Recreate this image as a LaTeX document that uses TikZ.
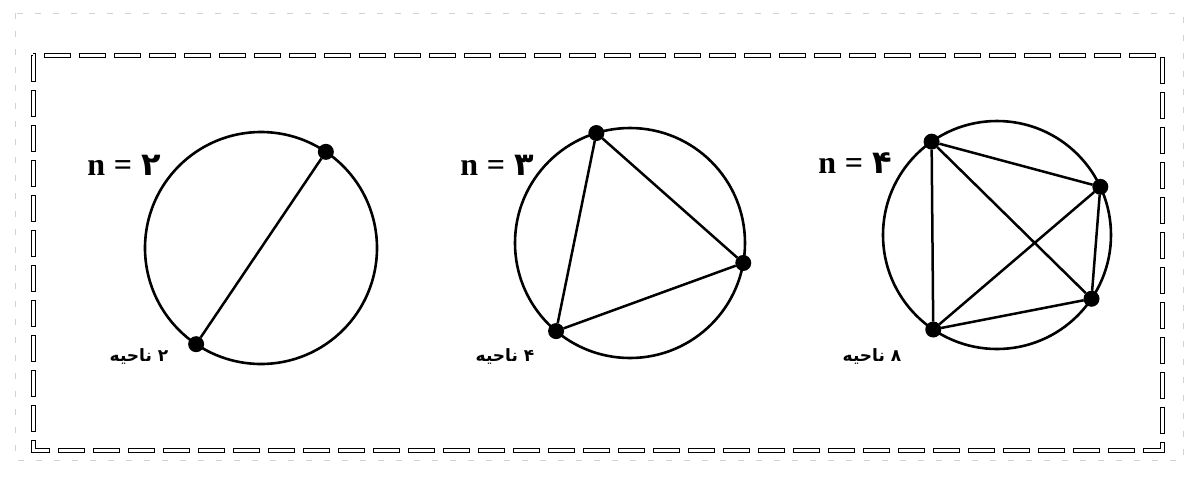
\documentclass[tikz,border=0pt]{standalone}
\usepackage{fontspec}
\setmainfont{Liberation Serif}
\newfontfamily\arabicfont[Script=Arabic]{DejaVu Sans}
\TeXXeTstate=1
\begin{document}
\begin{tikzpicture}[x=0.5pt,y=-0.5pt,
  ring/.style={circle,draw,line width=1.3pt,inner sep=0pt,outer sep=0pt},
  dot/.style={circle,fill,inner sep=0pt,outer sep=0pt,minimum size=8pt},
  chord/.style={line width=1.25pt},
  nlabel/.style={font=\fontsize{16}{17}\selectfont\bfseries},
  rlabel/.style={font=\arabicfont\fontsize{8.5}{10}\selectfont\bfseries},
  frameouter/.style={line width=2.5pt, dash pattern=on 13.5pt off 4pt},
  frameinner/.style={white, line width=1.5pt, dash pattern=on 12.5pt off 5pt, dash phase=17pt}]
\useasboundingbox (0,0) rectangle (1191,484);
% faint outer frame
\draw[gray!35, line width=0.3pt, dash pattern=on 3pt off 6pt] (15,13) rectangle (1183,460);
% main hollow dashed frame
\draw[frameouter] (33,55) rectangle (1162,450);
\draw[frameinner] (33,55) rectangle (1162,450);

% n = 2
\node[ring, minimum size=116pt] (c1) at (261,248) {};
\node[dot] (a1) at (c1.56) {};
\node[dot] (a2) at (c1.236) {};
\draw[chord] (a1) -- (a2);
\node[nlabel] (n1) at (124,165) {n\;=\;{\arabicfont ۲}};
\node[rlabel] (r1) at (139,356) {\beginR ۲ ناحیه\endR};

% n = 3
\node[ring, minimum size=115pt] (c2) at (630,243) {};
\node[dot] (b1) at (c2.107) {};
\node[dot] (b2) at (c2.-10) {};
\node[dot] (b3) at (c2.230) {};
\draw[chord] (b1) -- (b2) -- (b3) -- (b1);
\node[nlabel] (n2) at (497,165) {n\;=\;{\arabicfont ۳}};
\node[rlabel] (r2) at (505,356) {\beginR ۴ ناحیه\endR};

% n = 4
\node[ring, minimum size=114pt] (c3) at (997,235) {};
\node[dot] (d1) at (c3.125) {};
\node[dot] (d2) at (c3.25) {};
\node[dot] (d3) at (c3.-34) {};
\node[dot] (d4) at (c3.236) {};
\draw[chord] (d1) -- (d2) -- (d3) -- (d4) -- (d1);
\draw[chord] (d1) -- (d3);
\draw[chord] (d2) -- (d4);
\node[nlabel] (n3) at (855,163) {n\;=\;{\arabicfont ۴}};
\node[rlabel] (r3) at (872,356) {\beginR ۸ ناحیه\endR};
\end{tikzpicture}
\end{document}
